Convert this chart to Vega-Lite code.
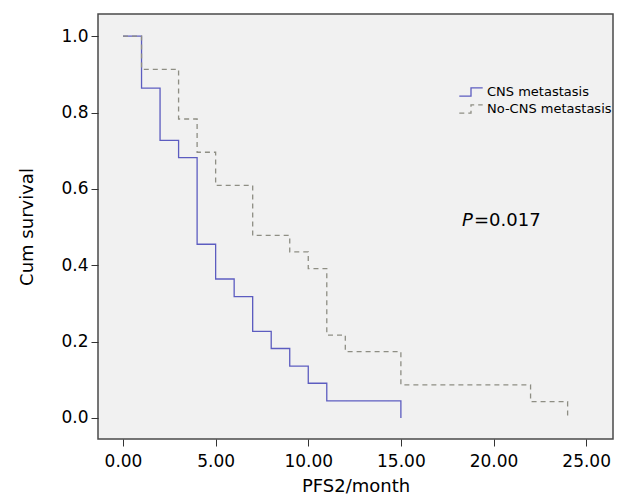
{
  "$schema": "https://vega.github.io/schema/vega-lite/v6.json",
  "width": 515,
  "height": 425,
  "autosize": "none",
  "padding": {"left": 98, "top": 14, "right": 4, "bottom": 65},
  "background": "white",
  "config": {
    "view": {"fill": "#f1f1f1", "stroke": "#4a4a4a", "strokeWidth": 1.5},
    "font": "DejaVu Sans",
    "axis": {"grid": false, "domain": false, "tickColor": "#333333", "tickSize": 7, "labelColor": "#000000", "titleColor": "#000000", "labelFontSize": 17, "titleFontSize": 18, "titleFontWeight": "normal", "labelFont": "DejaVu Sans", "titleFont": "DejaVu Sans"}
  },
  "data": {
    "values": [
      {"group": "CNS metastasis", "time": 0, "surv": 1.0},
      {"group": "CNS metastasis", "time": 1, "surv": 0.864},
      {"group": "CNS metastasis", "time": 2, "surv": 0.727},
      {"group": "CNS metastasis", "time": 3, "surv": 0.682},
      {"group": "CNS metastasis", "time": 4, "surv": 0.455},
      {"group": "CNS metastasis", "time": 5, "surv": 0.364},
      {"group": "CNS metastasis", "time": 6, "surv": 0.318},
      {"group": "CNS metastasis", "time": 7, "surv": 0.227},
      {"group": "CNS metastasis", "time": 8, "surv": 0.182},
      {"group": "CNS metastasis", "time": 9, "surv": 0.136},
      {"group": "CNS metastasis", "time": 10, "surv": 0.091},
      {"group": "CNS metastasis", "time": 11, "surv": 0.045},
      {"group": "CNS metastasis", "time": 15, "surv": 0.0},
      {"group": "No-CNS metastasis", "time": 0, "surv": 1.0},
      {"group": "No-CNS metastasis", "time": 1, "surv": 0.913},
      {"group": "No-CNS metastasis", "time": 3, "surv": 0.783},
      {"group": "No-CNS metastasis", "time": 4, "surv": 0.696},
      {"group": "No-CNS metastasis", "time": 5, "surv": 0.609},
      {"group": "No-CNS metastasis", "time": 7, "surv": 0.478},
      {"group": "No-CNS metastasis", "time": 9, "surv": 0.435},
      {"group": "No-CNS metastasis", "time": 10, "surv": 0.391},
      {"group": "No-CNS metastasis", "time": 11, "surv": 0.217},
      {"group": "No-CNS metastasis", "time": 12, "surv": 0.174},
      {"group": "No-CNS metastasis", "time": 15, "surv": 0.087},
      {"group": "No-CNS metastasis", "time": 22, "surv": 0.043},
      {"group": "No-CNS metastasis", "time": 24, "surv": 0.0}
    ]
  },
  "layer": [
    {
      "mark": {"type": "line", "interpolate": "step-after", "strokeWidth": 1.3},
      "encoding": {
        "x": {
          "field": "time", "type": "quantitative",
          "scale": {"domain": [-1.35, 26.45], "nice": false, "zero": false},
          "axis": {"values": [0, 5, 10, 15, 20, 25], "format": ".2f", "title": "PFS2/month", "labelPadding": 7, "titlePadding": 8}
        },
        "y": {
          "field": "surv", "type": "quantitative",
          "scale": {"domain": [-0.055, 1.058], "nice": false, "zero": false},
          "axis": {"values": [0, 0.2, 0.4, 0.6, 0.8, 1.0], "format": ".1f", "title": "Cum survival", "labelPadding": 3, "titlePadding": 24}
        },
        "color": {
          "field": "group", "type": "nominal",
          "scale": {"domain": ["CNS metastasis", "No-CNS metastasis"], "range": ["#5c5cc0", "#8e8e84"]},
          "legend": {
            "title": null, "orient": "none", "legendX": 363, "legendY": 68,
            "symbolType": "M-1.3,0.45H0V-0.45H1.3", "symbolSize": 324, "symbolStrokeWidth": 1.3, "symbolFillColor": "transparent",
            "labelFontSize": 13, "labelFont": "DejaVu Sans", "labelColor": "#000000", "labelOffset": 6, "rowPadding": -2
          }
        },
        "strokeDash": {
          "field": "group", "type": "nominal",
          "scale": {"domain": ["CNS metastasis", "No-CNS metastasis"], "range": [[1, 0], [5, 4]]},
          "legend": null
        }
      }
    },
    {
      "data": {"values": [{"label": "P"}]},
      "mark": {"type": "text", "fontStyle": "italic", "fontSize": 18, "font": "DejaVu Sans", "align": "left", "baseline": "alphabetic", "color": "#000000"},
      "encoding": {"x": {"datum": 18.3}, "y": {"datum": 0.503}, "text": {"field": "label"}}
    },
    {
      "data": {"values": [{"label": "=0.017"}]},
      "mark": {"type": "text", "fontSize": 18, "font": "DejaVu Sans", "align": "left", "baseline": "alphabetic", "color": "#000000", "dx": 12},
      "encoding": {"x": {"datum": 18.3}, "y": {"datum": 0.503}, "text": {"field": "label"}}
    }
  ]
}
